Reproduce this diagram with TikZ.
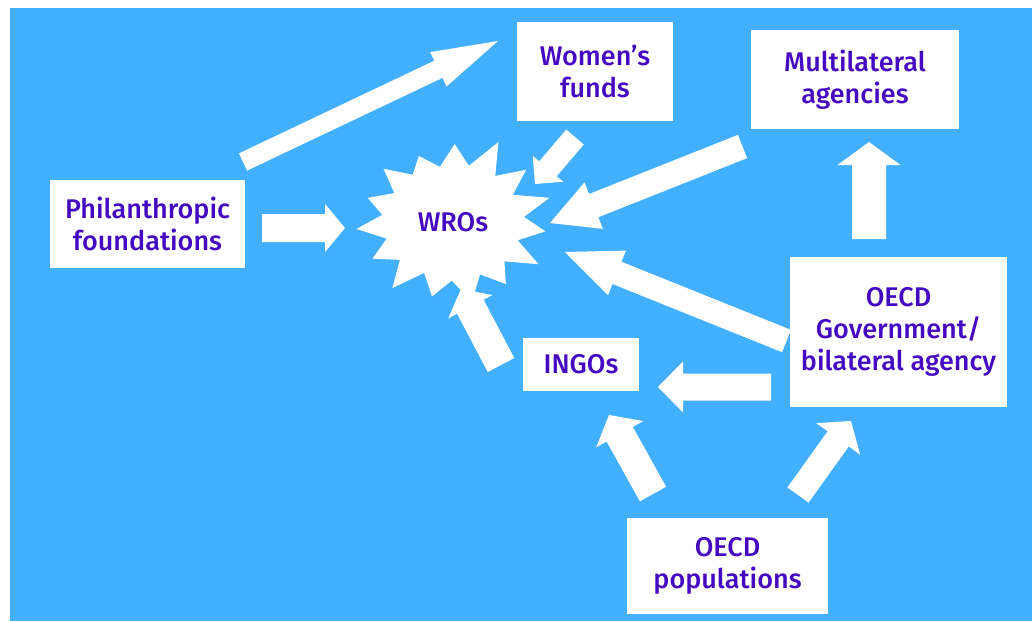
\documentclass[tikz,border=0pt]{standalone}
\usepackage{fontspec}
\setmainfont{Fira Sans}[UprightFont=* Medium]
\usetikzlibrary{calc}
\definecolor{bgblue}{RGB}{66,176,255}
\definecolor{txtpurple}{RGB}{68,8,192}
\tikzset{
  boxnode/.style={fill=white, inner sep=0pt, align=center, text=txtpurple,
    font=\fontsize{27}{32}\selectfont},
  arrowfill/.style={fill=white},
}
\newcommand\blockarr[5]{%
  \coordinate (ba-b) at ($(#2)!#5pt!(#1)$);
  \fill[arrowfill] ($(#1)!#3pt!90:(#2)$) -- ($(ba-b)!#3pt!-90:(#1)$) -- ($(ba-b)!#4pt!-90:(#1)$) -- (#2) -- ($(ba-b)!#4pt!90:(#1)$) -- ($(ba-b)!#3pt!90:(#1)$) -- ($(#1)!#3pt!-90:(#2)$) -- cycle;
}
\begin{document}
\begin{tikzpicture}[x=1pt,y=-1pt]
\useasboundingbox (0,0) rectangle (1032,621);
\fill[white] (0,0) rectangle (1032,621);
\fill[bgblue] (10,8) rectangle (1032,621);

% boxes
\node[boxnode, minimum width=195pt, minimum height=88pt] (phil) at (147.5,224) {Philanthropic\\foundations};
\node[boxnode, minimum width=156pt, minimum height=99pt] (women) at (595,71.5) {Women’s\\funds};
\node[boxnode, minimum width=208pt, minimum height=99pt] (multi) at (855,79.5) {Multilateral\\agencies};
\node[boxnode, minimum width=217pt, minimum height=150pt] (gov) at (898.5,332) {OECD\\Government/\\bilateral agency};
\node[boxnode, minimum width=116pt, minimum height=53pt] (ingos) at (581,364.5) {INGOs};
\node[boxnode, minimum width=201pt, minimum height=96pt] (pop) at (727.5,566) {OECD\\populations};

% star
\coordinate (sc) at (453,222);
\fill[white] ($(sc)+(-65:{95*1.13} and {78*1.13})$)
  \foreach \a/\f in {-53/0.74,-41/1.02,-29/0.72,-17/1.06,-5/0.75,7/0.98,19/0.72,31/1.05,43/0.74,55/0.97,67/0.73,79/1.04,91/0.75,103/0.98,115/0.72,127/1.06,139/0.74,151/0.97,163/0.73,175/1.02,187/0.75,199/0.95,211/0.72,223/1.0,235/0.74,247/0.92,259/0.72,271/1.0,283/0.74} {
    -- ($(sc)+(\a:{95*\f} and {78*\f})$)
  } -- cycle;
\node[text=txtpurple, font=\fontsize{27}{32}\selectfont, inner sep=0pt] (wros) at (sc) {WROs};

% arrow end points
\coordinate (a1t) at (243,162);   \coordinate (a1h) at (498,41);
\coordinate (a2t) at (262,228);   \coordinate (a2h) at (345,228);
\coordinate (a3t) at (575,137);   \coordinate (a3h) at (535,184);
\coordinate (a4t) at (742.5,146.5); \coordinate (a4h) at (550,223);
\coordinate (a5t) at (869,239);   \coordinate (a5h) at (869,142);
\coordinate (a6t) at (786.5,341); \coordinate (a6h) at (565,252);
\coordinate (a7t) at (771,387);   \coordinate (a7h) at (658,387);
\coordinate (a8t) at (653,494);   \coordinate (a8h) at (609,415);
\coordinate (a9t) at (798,495);   \coordinate (a9h) at (851,421);
\coordinate (a10t) at (501,365);  \coordinate (a10h) at (461,289);

\blockarr{a1t}{a1h}{9.5}{19}{66}
\blockarr{a2t}{a2h}{14}{24}{20}
\blockarr{a3t}{a3h}{11.5}{20}{20}
\blockarr{a4t}{a4h}{12.5}{25}{47}
\blockarr{a5t}{a5h}{17}{31.5}{23}
\blockarr{a6t}{a6h}{12}{24}{56}
\blockarr{a7t}{a7h}{13.5}{25.5}{25}
\blockarr{a8t}{a8h}{15}{27}{22}
\blockarr{a9t}{a9h}{13}{27}{22}
\blockarr{a10t}{a10h}{15}{25}{20}
\end{tikzpicture}
\end{document}
